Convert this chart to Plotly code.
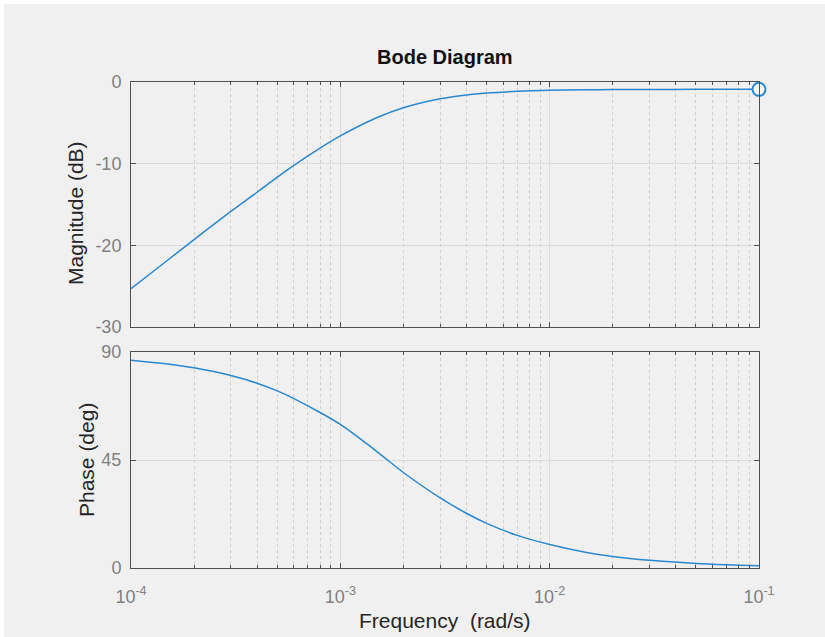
import plotly.graph_objects as go
from plotly.subplots import make_subplots

# Data
freq = [1e-4, 1.5e-4, 2e-4, 3e-4, 4e-4, 5e-4, 6e-4, 8e-4, 1e-3, 1.5e-3, 2e-3,
        3e-3, 4e-3, 5e-3, 7e-3, 1e-2, 1.5e-2, 2e-2, 3e-2, 5e-2, 7e-2, 1e-1]
magnitude_db = [-25.3, -21.8, -19.3, -15.85, -13.5, -11.65, -10.2, -8.1, -6.6, -4.35, -3.15,
                -2.05, -1.58, -1.35, -1.14, -1.02, -0.95, -0.93, -0.91, -0.9, -0.9, -0.9]
phase_deg = [86.6, 85.0, 83.4, 80.2, 77.0, 73.8, 70.6, 64.8, 59.8, 48.4, 39.8,
             29.2, 22.8, 18.6, 13.6, 9.8, 6.5, 4.8, 3.2, 1.9, 1.35, 0.95]
x_tickvals = [1e-4, 1e-3, 1e-2, 1e-1]
x_ticktext = ["10<sup>-4</sup>", "10<sup>-3</sup>", "10<sup>-2</sup>", "10<sup>-1</sup>"]
mag_ticks = [0, -10, -20, -30]
mag_ticktext = ["0", "-10", "-20", "-30"]
phase_ticks = [0, 45, 90]
phase_ticktext = ["0", "45", "90"]
decades = [1e-4, 1e-3, 1e-2]
minor_mult = [2, 3, 4, 5, 6, 7, 8, 9]
minor_vals = [d * m for d in decades for m in minor_mult]

W, H = 825, 637
L, R, T, B = 131, 66, 82, 69
ph = H - T - B
pw = W - L - R

def py(pix):
    return (H - B - pix) / ph

def px(pix):
    return (pix - L) / pw

blue = "#2a88cf"
tick_col = "#808080"
frame_col = "#505050"
font_fam = "Liberation Sans, Arial, sans-serif"

fig = make_subplots(rows=2, cols=1, shared_xaxes=True, vertical_spacing=0.05)
fig.add_trace(go.Scatter(x=freq, y=magnitude_db, mode="lines", line=dict(color=blue, width=1.5, shape="spline"),
                         showlegend=False), row=1, col=1)
fig.add_trace(go.Scatter(x=freq, y=phase_deg, mode="lines", line=dict(color=blue, width=1.5, shape="spline"),
                         showlegend=False), row=2, col=1)
fig.add_trace(go.Scatter(x=[freq[-1]], y=[magnitude_db[-1]], mode="markers",
                         marker=dict(symbol="circle", size=13, color="white", line=dict(color=blue, width=2)),
                         showlegend=False, cliponaxis=False), row=1, col=1)

xcommon = dict(type="log", range=[-4, -0.999999], showline=True, mirror="allticks", linecolor=frame_col, linewidth=1,
               ticks="inside", ticklen=5, tickcolor=frame_col, tickvals=x_tickvals,
               showgrid=True, gridcolor="#dcdcdc", gridwidth=1, zeroline=False,
               minor=dict(ticks="inside", ticklen=3, tickcolor=frame_col, showgrid=True, tickvals=minor_vals,
                          gridcolor="#cfcfcf", griddash="dot", gridwidth=1))
fig.update_xaxes(**xcommon)
fig.update_xaxes(showticklabels=False, row=1, col=1)
fig.update_xaxes(ticktext=x_ticktext, ticklabelstandoff=12,
                 tickfont=dict(color=tick_col, size=18, family=font_fam), row=2, col=1)

ycommon = dict(showline=True, mirror="allticks", linecolor=frame_col, linewidth=1, ticks="inside", ticklen=5,
               tickcolor=frame_col, showgrid=True, gridcolor="#dcdcdc", zeroline=False, ticklabelstandoff=5,
               tickfont=dict(color=tick_col, size=18, family=font_fam))
fig.update_yaxes(**ycommon)
fig.update_yaxes(range=[-30, 0], tickvals=mag_ticks, ticktext=mag_ticktext, row=1, col=1)
fig.update_yaxes(range=[0, 90], tickvals=phase_ticks, ticktext=phase_ticktext, row=2, col=1)

fig.update_layout(
    xaxis=dict(domain=[0, 1]),
    yaxis=dict(domain=[py(327), 1]),
    yaxis2=dict(domain=[0, py(352)]),
    width=W, height=H, margin=dict(l=L, r=R, t=T, b=B),
    paper_bgcolor="white", plot_bgcolor="white",
    font=dict(family=font_fam),
    shapes=[dict(type="rect", xref="paper", yref="paper", x0=px(4), x1=px(W), y0=py(H), y1=py(4),
                 fillcolor="#f0f0f0", line=dict(width=0), layer="below")],
    annotations=[
        dict(text="<b>Bode Diagram</b>", xref="paper", yref="paper", x=0.5, y=py(57), showarrow=False,
             font=dict(size=20, color="#111111", family=font_fam), xanchor="center", yanchor="middle"),
        dict(text="Magnitude (dB)", xref="paper", yref="paper", x=px(75), y=py(213), showarrow=False,
             textangle=-90, font=dict(size=21, color="#262626", family=font_fam), xanchor="center", yanchor="middle"),
        dict(text="Phase (deg)", xref="paper", yref="paper", x=px(86), y=py(460), showarrow=False,
             textangle=-90, font=dict(size=21, color="#262626", family=font_fam), xanchor="center", yanchor="middle"),
        dict(text="Frequency  (rad/s)", xref="paper", yref="paper", x=0.5, y=py(620), showarrow=False,
             font=dict(size=21, color="#262626", family=font_fam), xanchor="center", yanchor="middle"),
    ],
)
fig.write_html("out.html")
